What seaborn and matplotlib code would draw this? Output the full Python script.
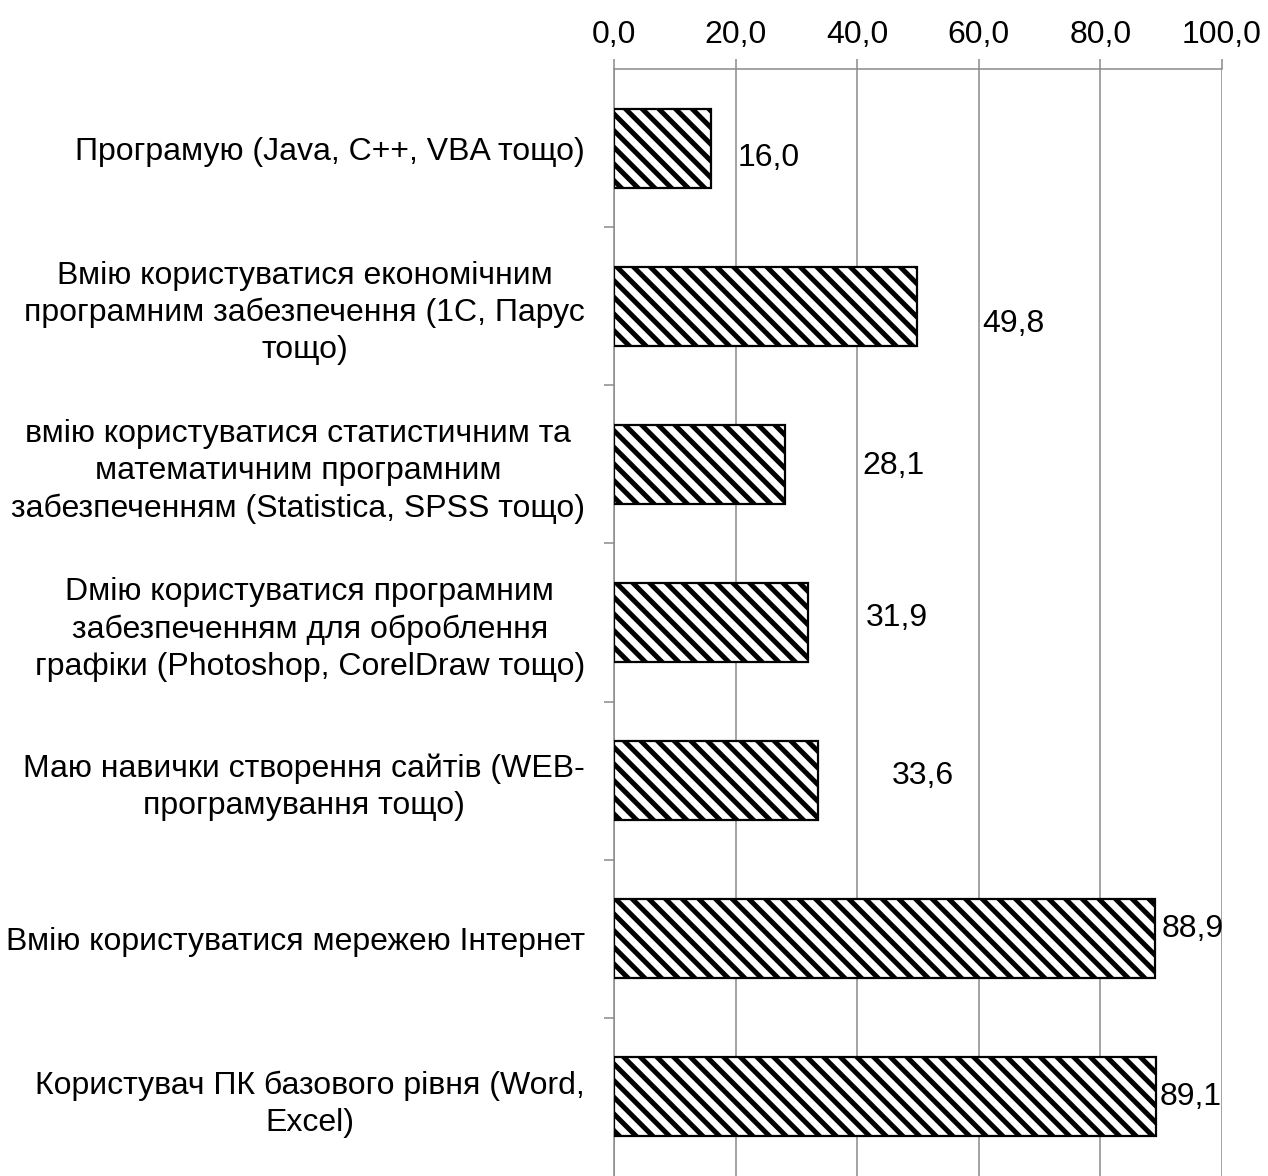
import matplotlib
matplotlib.use("Agg")
import matplotlib.pyplot as plt
import seaborn as sns
import pandas as pd
from matplotlib.ticker import FixedLocator, FuncFormatter

categories = [
    "Програмую (Java, C++, VBA тощо)",
    "Вмію користуватися економічним\nпрограмним забезпечення (1С, Парус\nтощо)",
    "вмію користуватися статистичним та\nматематичним програмним\nзабезпеченням (Statistica, SPSS тощо)",
    "Dмію користуватися програмним\nзабезпеченням для оброблення\nграфіки (Photoshop, CorelDraw тощо)",
    "Маю навички створення сайтів (WEB-\nпрограмування тощо)",
    "Вмію користуватися мережею Інтернет",
    "Користувач ПК базового рівня (Word,\nExcel)",
]
values = [16.0, 49.8, 28.1, 31.9, 33.6, 88.9, 89.1]
x_ticks = [0, 20, 40, 60, 80, 100]

# label placement (positions, not data)
label_x = [20.4, 60.5, 40.8, 41.4, 45.7, 90.1, 89.8]
label_dy = [0.06, 0.11, 0.01, -0.03, -0.03, -0.06, 0.0]

sns.set_style("white")
plt.rcParams['font.family'] = ['Liberation Sans', 'DejaVu Sans']
plt.rcParams['hatch.linewidth'] = 3.6
plt.rcParams['hatch.color'] = 'black'
plt.rcParams['text.color'] = 'black'
plt.rcParams['xtick.labelcolor'] = 'black'
plt.rcParams['ytick.labelcolor'] = 'black'

FS = 23
grey = '#8a8a8a'

df = pd.DataFrame({"cat": categories, "val": values})

fig = plt.figure(figsize=(12.68, 11.76), dpi=100)
ax = fig.add_axes([614/1268, 0.0, (1222-614)/1268, 1 - 69/1176])

sns.barplot(data=df, x="val", y="cat", orient="h", color="white",
            edgecolor="black", linewidth=1.6, width=0.5, ax=ax, zorder=3)
for p in ax.patches:
    p.set_hatch('\\\\')
    p.set_facecolor('white')
    p.set_edgecolor('black')

ax.set_xlim(0, 100)
ax.set_ylim(len(categories) - 0.5, -0.5)

ax.xaxis.set_major_locator(FixedLocator(x_ticks))
ax.xaxis.set_major_formatter(FuncFormatter(lambda v, _: f"{v:.1f}".replace('.', ',')))
ax.xaxis.tick_top()
ax.tick_params(axis='x', which='major', top=True, bottom=False, length=7, width=1.1,
               color=grey, labelsize=FS, pad=7, labeltop=True, labelbottom=False,
               labelcolor='black')

ax.yaxis.set_minor_locator(FixedLocator([i + 0.5 for i in range(len(categories) - 1)]))
ax.tick_params(axis='y', which='minor', left=True, length=7, width=1.1, color=grey)
ax.tick_params(axis='y', which='major', left=False, length=0, labelsize=FS, pad=21,
               labelcolor='black')
for lab in ax.get_yticklabels():
    lab.set_multialignment('center')
    lab.set_linespacing(1.3)

ax.grid(axis='x', color=grey, linewidth=1.1, zorder=0)
ax.set_axisbelow(True)
ax.set_xlabel("")
ax.set_ylabel("")

for s in ['right', 'bottom']:
    ax.spines[s].set_visible(False)
for s in ['top', 'left']:
    ax.spines[s].set_visible(True)
    ax.spines[s].set_color(grey)
    ax.spines[s].set_linewidth(1.1)

for i, v in enumerate(values):
    ax.text(label_x[i], i + label_dy[i], f"{v:.1f}".replace('.', ','),
            ha='left', va='center', fontsize=FS, color='black', zorder=4)

fig.savefig("out.png", dpi=100)
